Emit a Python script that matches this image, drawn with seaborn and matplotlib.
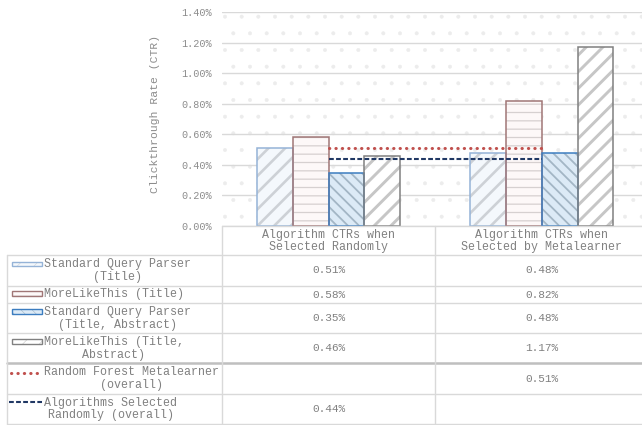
import matplotlib
matplotlib.use("Agg")
import matplotlib.pyplot as plt
import seaborn as sns
import pandas as pd
from matplotlib.patches import Rectangle
from matplotlib.ticker import FuncFormatter

# ---------------- data ----------------
categories = ["Algorithm CTRs when\nSelected Randomly",
              "Algorithm CTRs when\nSelected by Metalearner"]
series_names = ["Standard Query Parser\n(Title)",
                "MoreLikeThis (Title)",
                "Standard Query Parser\n(Title, Abstract)",
                "MoreLikeThis (Title,\nAbstract)"]
sqp_title = [0.51, 0.48]
mlt_title = [0.58, 0.82]
sqp_title_abstract = [0.35, 0.48]
mlt_title_abstract = [0.46, 1.17]
line_names = ["Random Forest Metalearner\n(overall)",
              "Algorithms Selected\nRandomly (overall)"]
rf_metalearner = [0.51, 0.51]
random_selection = [0.44, 0.44]
rf_table = ["", "0.51%"]
random_table = ["0.44%", ""]
y_ticks = [0.0, 0.2, 0.4, 0.6, 0.8, 1.0, 1.2, 1.4]

# ---------------- style ----------------
sns.set_style("white")
plt.rcParams["font.family"] = ["Liberation Mono", "DejaVu Sans"]
plt.rcParams["hatch.linewidth"] = 0.4
TXT = "#808080"
GRID = "#D9D9D9"

fills = ["#F4F8FC", "#FDF8F8", "#DCEAF6", "#FFFFFF"]
hatch_colors = ["#CDD1D6", "#D6D0D0", "#A3B6C5", "#C6C6C6"]
hatches = ["//", "--", "\\\\\\", "//"]
hatch_lw = [1.9, 0.9, 1.3, 2.1]
edges = ["#95B3D7", "#A07676", "#3C7DC0", "#808080"]

W, H = 642, 425
fig = plt.figure(figsize=(W / 100, H / 100), dpi=100)
ax = fig.add_axes([222 / W, 1 - 226 / H, (648.5 - 222) / W, (226 - 12.3) / H])
ax.set_facecolor("white")
ax.patch.set_hatch(".")
ax.patch.set_edgecolor("#ECECEC")
ax.patch.set_linewidth(0)

values = [sqp_title, mlt_title, sqp_title_abstract, mlt_title_abstract]
rows = []
for name, vals in zip(series_names, values):
    for c, v in zip(categories, vals):
        rows.append({"category": c, "series": name, "value": v})
df = pd.DataFrame(rows)

sns.barplot(data=df, x="category", y="value", hue="series",
            order=categories, hue_order=series_names, palette=fills,
            saturation=1, width=0.67, gap=0, legend=False, ax=ax,
            errorbar=None, zorder=3)

for i, cont in enumerate(ax.containers):
    for bar in cont:
        bar.set_hatch(hatches[i])
        bar.set_edgecolor(hatch_colors[i])
        bar.set_linewidth(0)
        try:
            bar.set_hatch_linewidth(hatch_lw[i])
        except Exception:
            pass
        ax.add_patch(Rectangle(bar.get_xy(), bar.get_width(), bar.get_height(),
                               fill=False, edgecolor=edges[i], lw=1.1, zorder=4))

xpos = list(range(len(categories)))
ax.plot(xpos, rf_metalearner, color="#C0504D", lw=2.2,
        linestyle=(0, (0.1, 2.0)), dash_capstyle="round", zorder=5)
ax.plot(xpos, random_selection, color="#203864", lw=1.5,
        linestyle=(0, (2.3, 1.1)), zorder=5)

ax.set_xlim(-0.5, len(categories) - 0.5)
ax.set_ylim(0, 1.4)
ax.set_yticks(y_ticks)
ax.yaxis.set_major_formatter(FuncFormatter(lambda v, p: f"{v:.2f}%"))
ax.set_xticks([])
ax.set_xlabel("")
ax.set_ylabel("")
ax.yaxis.grid(True, color=GRID, lw=1, zorder=1)
ax.set_axisbelow(True)
ax.tick_params(axis="y", length=0, pad=7.2, labelsize=7.3, labelcolor="#8c8c8c")
for s in ax.spines.values():
    s.set_visible(False)

fig.text(155 / W, 1 - 114 / H, "Clickthrough Rate (CTR)", rotation=90,
         ha="center", va="center", fontsize=8.2, color="#8c8c8c")

# ---------------- data table ----------------
tab = fig.add_axes([0, 0, 1, 1], zorder=5)
tab.set_xlim(0, W)
tab.set_ylim(H, 0)
tab.axis("off")
tab.patch.set_alpha(0)

inv = tab.transData.inverted()
def col_x(xd):
    return inv.transform(ax.transData.transform((xd, 0)))[0]

bounds = [col_x(-0.5 + k) for k in range(len(categories) + 1)]
centers = [col_x(k) for k in range(len(categories))]
right = W + 20

row_y = [226, 255, 285.7, 303.3, 333.3, 363.3, 394, 424]
tab.plot([bounds[0], right], [row_y[0]] * 2, color=GRID, lw=1)
for k, yy in enumerate(row_y[1:], start=1):
    if k == 5:
        tab.plot([7, right], [yy] * 2, color="#BFBFBF", lw=1.8)
    else:
        tab.plot([7, right], [yy] * 2, color=GRID, lw=1)
tab.plot([7, 7], [row_y[1], row_y[-1]], color=GRID, lw=1)
for b in bounds[:-1]:
    tab.plot([b, b], [row_y[0], row_y[-1]], color=GRID, lw=1)

for c, cx in zip(categories, centers):
    tab.text(cx, 240.8, c, ha="center", va="center", multialignment="center",
             fontsize=8.4, color=TXT, linespacing=1.05)

row_centers = [(row_y[k] + row_y[k + 1]) / 2 for k in range(1, 7)]
first_line = [264, 293.5, 311.5, 341.5, 373, 402]

for i, name in enumerate(series_names):
    yc = row_centers[i]
    tab.text(44, yc, name, ha="left", va="center", multialignment="center",
             fontsize=8.4, color=TXT, linespacing=1.05)
    ky = first_line[i]
    r = Rectangle((11.5, ky - 2.3), 30, 4.6, facecolor=fills[i],
                  edgecolor=hatch_colors[i], lw=0, hatch=hatches[i])
    tab.add_patch(r)
    tab.add_patch(Rectangle((11.5, ky - 2.3), 30, 4.6, fill=False,
                            edgecolor=edges[i], lw=1))
    for cx, v in zip(centers, values[i]):
        tab.text(cx, yc, f"{v:.2f}%", ha="center", va="center",
                 fontsize=8, color=TXT)

tab.text(44, row_centers[4], line_names[0], ha="left", va="center",
         multialignment="center", fontsize=8.4, color=TXT, linespacing=1.05)
tab.plot([10.5, 39], [first_line[4]] * 2, color="#C0504D", lw=2.2,
         linestyle=(0, (0.1, 2.0)), dash_capstyle="round")
tab.text(44, row_centers[5], line_names[1], ha="left", va="center",
         multialignment="center", fontsize=8.4, color=TXT, linespacing=1.05)
tab.plot([9, 42], [first_line[5]] * 2, color="#203864", lw=1.5,
         linestyle=(0, (2.3, 1.1)))
for cx, t in zip(centers, rf_table):
    tab.text(cx, row_centers[4], t, ha="center", va="center", fontsize=8, color=TXT)
for cx, t in zip(centers, random_table):
    tab.text(cx, row_centers[5], t, ha="center", va="center", fontsize=8, color=TXT)

fig.savefig("out.png", dpi=100)
